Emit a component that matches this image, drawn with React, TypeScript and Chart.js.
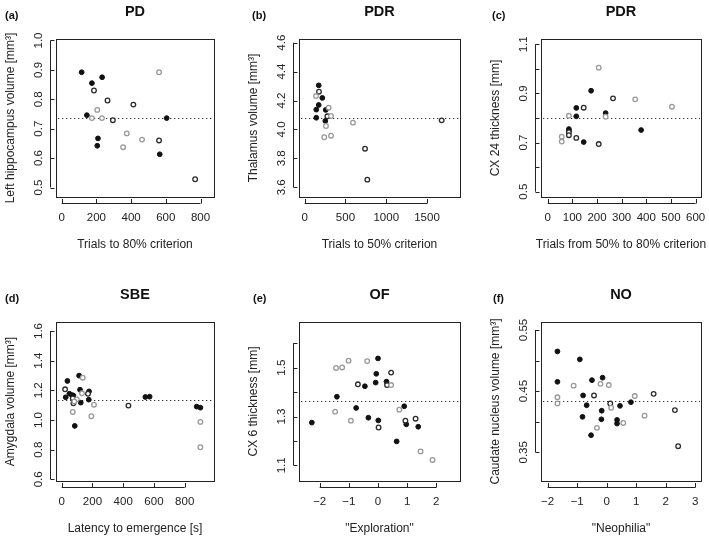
import React, { useEffect, useRef } from "react";
import { Chart, registerables } from "chart.js";

Chart.register(...registerables);

type Pt = [number, number];

// ---------- (a) PD ----------
const aFilled: Pt[] = [[115, 0.892], [174, 0.855], [233, 0.875], [145, 0.746], [209, 0.667], [205, 0.642], [605, 0.736], [565, 0.613]];
const aOpen: Pt[] = [[264, 0.796], [186, 0.830], [295, 0.729], [413, 0.782], [561, 0.660], [769, 0.528]];
const aGrey: Pt[] = [[205, 0.764], [174, 0.736], [232, 0.736], [375, 0.684], [354, 0.637], [463, 0.663], [561, 0.892]];
const aRef = 0.738;
const aXTicks = [0, 200, 400, 600, 800];
const aXLabels = ["0", "200", "400", "600", "800"];
const aYTicks = [0.5, 0.6, 0.7, 0.8, 0.9, 1.0];
const aYLabels = ["0.5", "0.6", "0.7", "0.8", "0.9", "1.0"];

// ---------- (b) PDR ----------
const bFilled: Pt[] = [[172, 4.305], [216, 4.218], [172, 4.169], [142, 4.137], [258, 4.135], [142, 4.081], [253, 4.059]];
const bOpen: Pt[] = [[175, 4.261], [278, 4.091], [1680, 4.063], [740, 3.867], [768, 3.653]];
const bGrey: Pt[] = [[139, 4.231], [294, 4.151], [323, 4.093], [261, 4.024], [240, 3.946], [323, 3.957], [592, 4.047]];
const bRef = 4.082;
const bXTicks = [0, 500, 1000, 1500];
const bXLabels = ["0", "500", "1000", "1500"];
const bYTicks = [3.6, 3.8, 4.0, 4.2, 4.4, 4.6];
const bYLabels = ["3.6", "3.8", "4.0", "4.2", "4.4", "4.6"];

// ---------- (c) PDR ----------
const cFilled: Pt[] = [[176, 0.911], [116, 0.841], [116, 0.807], [235, 0.820], [86, 0.755], [86, 0.748], [146, 0.702], [379, 0.751]];
const cOpen: Pt[] = [[265, 0.880], [146, 0.842], [86, 0.742], [86, 0.730], [116, 0.719], [207, 0.694]];
const cGrey: Pt[] = [[207, 1.005], [355, 0.876], [86, 0.809], [235, 0.805], [57, 0.724], [57, 0.704], [504, 0.846]];
const cRef = 0.801;
const cXTicks = [0, 100, 200, 300, 400, 500, 600];
const cXLabels = ["0", "100", "200", "300", "400", "500", "600"];
const cYTicks = [0.5, 0.6, 0.7, 0.8, 0.9, 1.0, 1.1];
const cYLabels = ["0.5", "", "0.7", "", "0.9", "", "1.1"];

// ---------- (d) SBE ----------
const dFilled: Pt[] = [[26, 1.153], [37, 1.263], [50, 1.177], [67, 1.168], [76, 1.164], [113, 1.299], [119, 1.204], [124, 1.117], [85, 0.960], [178, 1.193], [176, 1.137], [544, 1.155], [572, 1.157], [878, 1.090], [902, 1.083]];
const dOpen: Pt[] = [[22, 1.207], [72, 1.146], [76, 1.112], [171, 1.177], [434, 1.097]];
const dGrey: Pt[] = [[72, 1.054], [98, 1.139], [82, 1.125], [137, 1.285], [132, 1.180], [210, 1.103], [193, 1.025], [902, 0.987], [902, 0.816]];
const dRef = 1.132;
const dXTicks = [0, 200, 400, 600, 800];
const dXLabels = ["0", "200", "400", "600", "800"];
const dYTicks = [0.6, 0.8, 1.0, 1.2, 1.4, 1.6];
const dYLabels = ["0.6", "0.8", "1.0", "1.2", "1.4", "1.6"];

// ---------- (e) OF ----------
const eFilled: Pt[] = [[-2.27, 1.275], [-1.41, 1.381], [-0.75, 1.335], [-0.45, 1.424], [-0.33, 1.295], [-0.08, 1.439], [-0.06, 1.475], [0.0, 1.538], [0.01, 1.284], [0.29, 1.443], [0.64, 1.198], [0.9, 1.342], [0.97, 1.268], [1.38, 1.258]];
const eOpen: Pt[] = [[-0.69, 1.432], [0.31, 1.429], [0.45, 1.48], [0.02, 1.255], [0.94, 1.283], [1.29, 1.291]];
const eGrey: Pt[] = [[-1.44, 1.499], [-1.23, 1.501], [-1.01, 1.529], [-0.37, 1.527], [-1.47, 1.32], [-0.93, 1.283], [0.45, 1.429], [0.73, 1.328], [1.46, 1.157], [1.87, 1.122]];
const eRef = 1.363;
const eXTicks = [-2, -1, 0, 1, 2];
const eXLabels = ["\u22122", "\u22121", "0", "1", "2"];
const eYTicks = [1.1, 1.2, 1.3, 1.4, 1.5, 1.6];
const eYLabels = ["1.1", "", "1.3", "", "1.5", ""];

// ---------- (f) NO ----------
const fFilled: Pt[] = [[-1.67, 0.515], [-1.67, 0.4653], [-0.91, 0.502], [-0.5, 0.468], [-0.14, 0.472], [-0.8, 0.443], [-0.68, 0.427], [-0.82, 0.408], [-0.17, 0.418], [-0.18, 0.404], [-0.53, 0.378], [0.35, 0.403], [0.35, 0.397], [0.45, 0.426], [0.82, 0.432]];
const fOpen: Pt[] = [[-0.43, 0.443], [0.12, 0.43], [1.59, 0.4456], [2.31, 0.419], [2.42, 0.36]];
const fGrey: Pt[] = [[-1.67, 0.44], [-1.67, 0.43], [-1.12, 0.459], [-0.21, 0.462], [0.07, 0.46], [-0.33, 0.39], [0.15, 0.423], [0.56, 0.398], [0.95, 0.442], [1.28, 0.41]];
const fRef = 0.4336;
const fXTicks = [-2, -1, 0, 1, 2, 3];
const fXLabels = ["\u22122", "\u22121", "0", "1", "2", "3"];
const fYTicks = [0.35, 0.4, 0.45, 0.5, 0.55];
const fYLabels = ["0.35", "", "0.45", "", "0.55"];

const W = 709;
const H = 540;
const FONT = "'Liberation Sans', Arial, Helvetica, sans-serif";

interface Panel {
  tag: string;
  tagX: number;
  title: string;
  xTitle: string;
  yTitle: string;
  filled: Pt[];
  open: Pt[];
  grey: Pt[];
  ref: number;
  xTicks: number[];
  xLabels: string[];
  yTicks: number[];
  yLabels: string[];
  xMin: number;
  xMax: number;
  yMin: number;
  yMax: number;
  box: { l: number; t: number; r: number; b: number };
}

const panels: Panel[] = [
  {
    tag: "(a)", tagX: 5, title: "PD", xTitle: "Trials to 80% criterion", yTitle: "Left hippocampus volume [mm\u00b3]",
    filled: aFilled, open: aOpen, grey: aGrey, ref: aRef,
    xTicks: aXTicks, xLabels: aXLabels, yTicks: aYTicks, yLabels: aYLabels,
    xMin: -32.9, xMax: 877.8, yMin: 0.4677, yMax: 1.0051,
    box: { l: 56, t: 39, r: 214, b: 197 },
  },
  {
    tag: "(b)", tagX: 252, title: "PDR", xTitle: "Trials to 50% criterion", yTitle: "Thalamus volume [mm\u00b3]",
    filled: bFilled, open: bOpen, grey: bGrey, ref: bRef,
    xTicks: bXTicks, xLabels: bXLabels, yTicks: bYTicks, yLabels: bYLabels,
    xMin: -69.9, xMax: 1904.8, yMin: 3.5329, yMax: 4.6256,
    box: { l: 299, t: 39, r: 460, b: 197 },
  },
  {
    tag: "(c)", tagX: 492, title: "PDR", xTitle: "Trials from 50% to 80% criterion", yTitle: "CX 24 thickness [mm]",
    filled: cFilled, open: cOpen, grey: cGrey, ref: cRef,
    xTicks: cXTicks, xLabels: cXLabels, yTicks: cYTicks, yLabels: cYLabels,
    xMin: -27.2, xMax: 621.9, yMin: 0.4784, yMax: 1.1216,
    box: { l: 541, t: 39, r: 701, b: 197 },
  },
  {
    tag: "(d)", tagX: 5, title: "SBE", xTitle: "Latency to emergence [s]", yTitle: "Amygdala volume [mm\u00b3]",
    filled: dFilled, open: dOpen, grey: dGrey, ref: dRef,
    xTicks: dXTicks, xLabels: dXLabels, yTicks: dYTicks, yLabels: dYLabels,
    xMin: -37.1, xMax: 990.6, yMin: 0.5885, yMax: 1.6607,
    box: { l: 56, t: 322, r: 214, b: 481 },
  },
  {
    tag: "(e)", tagX: 253, title: "OF", xTitle: "\"Exploration\"", yTitle: "CX 6 thickness [mm]",
    filled: eFilled, open: eOpen, grey: eGrey, ref: eRef,
    xTicks: eXTicks, xLabels: eXLabels, yTicks: eYTicks, yLabels: eYLabels,
    xMin: -2.71, xMax: 2.813, yMin: 1.0357, yMax: 1.6873,
    box: { l: 299, t: 322, r: 460, b: 481 },
  },
  {
    tag: "(f)", tagX: 493, title: "NO", xTitle: "\"Neophilia\"", yTitle: "Caudate nucleus volume [mm\u00b3]",
    filled: fFilled, open: fOpen, grey: fGrey, ref: fRef,
    xTicks: fXTicks, xLabels: fXLabels, yTicks: fYTicks, yLabels: fYLabels,
    xMin: -2.226, xMax: 3.194, yMin: 0.3031, yMax: 0.5631,
    box: { l: 541, t: 322, r: 701, b: 481 },
  },
];

function toXY(pts: Pt[]) {
  return pts.map(([x, y]) => ({ x, y }));
}

function PanelChart({ p }: { p: Panel }) {
  const ref = useRef<HTMLCanvasElement | null>(null);
  useEffect(() => {
    if (!ref.current) return;
    const deco = {
      id: "rdeco" + p.tag,
      beforeDatasetsDraw(chart: any) {
        const ctx = chart.ctx as CanvasRenderingContext2D;
        const a = chart.chartArea;
        const xs = chart.scales.x;
        const ys = chart.scales.y;
        ctx.save();
        ctx.strokeStyle = "#222";
        ctx.fillStyle = "#222";
        ctx.lineWidth = 1;
        // box
        ctx.strokeRect(Math.round(a.left) + 0.5, Math.round(a.top) + 0.5, Math.round(a.right - a.left), Math.round(a.bottom - a.top));
        // reference dotted line
        const ry = Math.round(ys.getPixelForValue(p.ref)) + 0.5;
        ctx.save();
        ctx.setLineDash([1.3, 2.7]);
        ctx.lineWidth = 1.2;
        ctx.strokeStyle = "#333";
        ctx.beginPath();
        ctx.moveTo(a.left + 2, ry);
        ctx.lineTo(a.right - 1, ry);
        ctx.stroke();
        ctx.restore();
        // x axis
        const ax = Math.round(a.bottom) + 6.5;
        const x0 = xs.getPixelForValue(p.xTicks[0]);
        const x1 = xs.getPixelForValue(p.xTicks[p.xTicks.length - 1]);
        ctx.beginPath();
        ctx.moveTo(x0, ax);
        ctx.lineTo(x1, ax);
        p.xTicks.forEach((t) => {
          const px = Math.round(xs.getPixelForValue(t)) + 0.5;
          ctx.moveTo(px, ax);
          ctx.lineTo(px, a.bottom + 2);
        });
        ctx.stroke();
        ctx.font = "11.5px " + FONT;
        ctx.textAlign = "center";
        ctx.textBaseline = "middle";
        p.xTicks.forEach((t, i) => {
          const px = xs.getPixelForValue(t);
          if (p.xLabels[i]) ctx.fillText(p.xLabels[i], px, a.bottom + 21);
        });
        // y axis
        const ayx = Math.round(a.left) - 5.5;
        const y0 = ys.getPixelForValue(p.yTicks[0]);
        const y1 = ys.getPixelForValue(p.yTicks[p.yTicks.length - 1]);
        ctx.beginPath();
        ctx.moveTo(ayx, y0);
        ctx.lineTo(ayx, y1);
        p.yTicks.forEach((t) => {
          const py = Math.round(ys.getPixelForValue(t)) + 0.5;
          ctx.moveTo(ayx, py);
          ctx.lineTo(a.left - 1.5, py);
        });
        ctx.stroke();
        p.yTicks.forEach((t, i) => {
          if (!p.yLabels[i]) return;
          const py = ys.getPixelForValue(t);
          ctx.save();
          ctx.translate(a.left - 17, py);
          ctx.rotate(-Math.PI / 2);
          ctx.fillText(p.yLabels[i], 0, 0);
          ctx.restore();
        });
        // axis titles
        ctx.font = "12px " + FONT;
        ctx.fillText(p.xTitle, (a.left + a.right) / 2, a.bottom + 48);
        ctx.save();
        ctx.translate(a.left - 45, (a.top + a.bottom) / 2);
        ctx.rotate(-Math.PI / 2);
        ctx.fillText(p.yTitle, 0, 0);
        ctx.restore();
        // title
        ctx.fillStyle = "#111";
        ctx.font = "bold 14.5px " + FONT;
        ctx.fillText(p.title, (a.left + a.right) / 2, a.top - 27.5);
        // tag
        ctx.font = "bold 11px " + FONT;
        ctx.textAlign = "left";
        ctx.fillText(p.tag, p.tagX, a.top - 23.5);
        ctx.restore();
      },
    };
    const chart = new Chart(ref.current, {
      type: "scatter",
      data: {
        datasets: [
          {
            data: toXY(p.grey),
            pointRadius: 2.3,
            pointBackgroundColor: "#ffffff",
            pointBorderColor: "#999999",
            pointBorderWidth: 1.3,
          },
          {
            data: toXY(p.open),
            pointRadius: 2.3,
            pointBackgroundColor: "#ffffff",
            pointBorderColor: "#2a2a2a",
            pointBorderWidth: 1.3,
          },
          {
            data: toXY(p.filled),
            pointRadius: 2.4,
            pointBackgroundColor: "#111111",
            pointBorderColor: "#111111",
            pointBorderWidth: 1,
          },
        ],
      },
      options: {
        responsive: false,
        animation: false,
        events: [],
        layout: {
          padding: { left: p.box.l, top: p.box.t, right: W - p.box.r, bottom: H - p.box.b },
        },
        scales: {
          x: { type: "linear", display: false, min: p.xMin, max: p.xMax },
          y: { type: "linear", display: false, min: p.yMin, max: p.yMax },
        },
        plugins: { legend: { display: false }, tooltip: { enabled: false } },
      },
      plugins: [deco],
    } as any);
    return () => chart.destroy();
  }, [p]);
  return (
    <canvas
      ref={ref}
      width={W}
      height={H}
      style={{ position: "absolute", left: 0, top: 0, width: W, height: H }}
    />
  );
}

export default function App() {
  return (
    <div style={{ position: "absolute", left: 0, top: 0, width: W, height: H, background: "#ffffff", overflow: "hidden" }}>
      {panels.map((p) => (
        <PanelChart key={p.tag} p={p} />
      ))}
    </div>
  );
}
